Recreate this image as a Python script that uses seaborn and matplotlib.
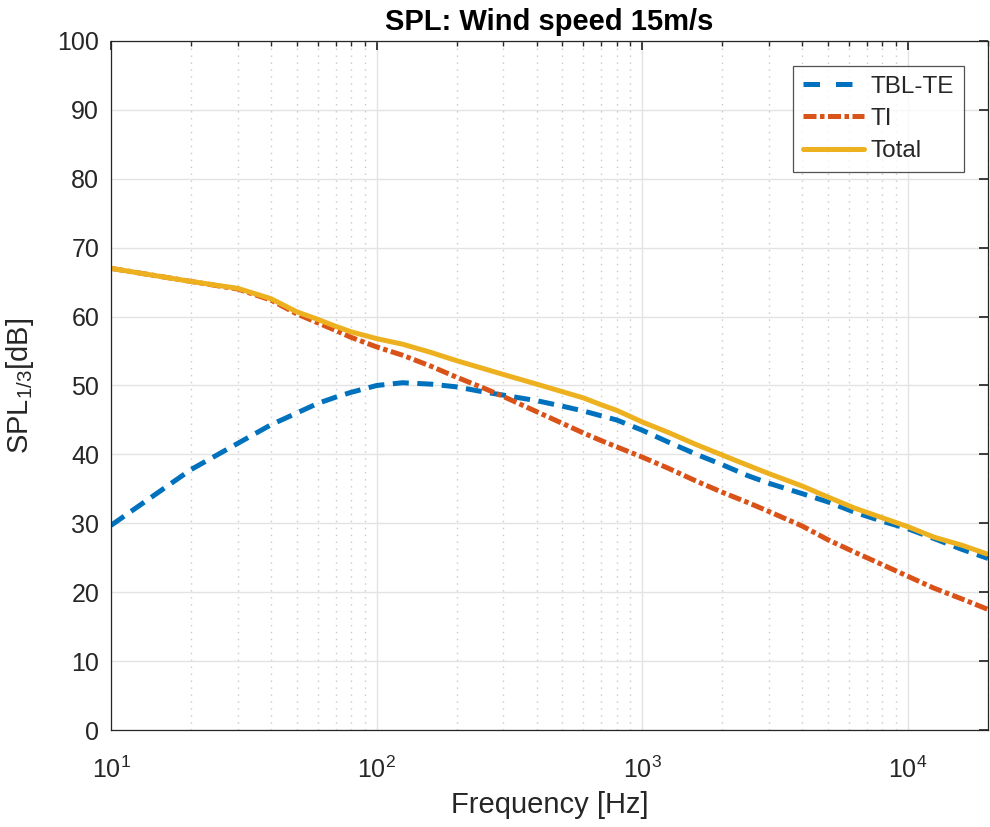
import numpy as np
import pandas as pd
import matplotlib
matplotlib.use("Agg")
import matplotlib.pyplot as plt
import seaborn as sns
from matplotlib.ticker import LogLocator, NullFormatter
from matplotlib.lines import Line2D

freq = [10, 20, 30, 40, 50, 60, 70, 80, 100, 125, 160, 200, 250, 300, 400, 500, 600, 700, 800,
        1000, 1250, 1600, 2000, 2500, 3000, 4000, 5000, 6300, 8000, 10000, 12500, 16000, 20000]
tbl_te = [29.7, 37.8, 41.6, 44.3, 46.0, 47.4, 48.3, 49.0, 50.0, 50.4, 50.2, 49.8, 49.1, 48.6, 47.8,
          47.0, 46.3, 45.6, 45.0, 43.5, 41.8, 40.0, 38.5, 36.9, 35.8, 34.3, 33.1, 31.6, 30.3,
          29.2, 27.8, 26.2, 24.9]
ti = [67.0, 65.1, 64.0, 62.4, 60.4, 59.1, 58.0, 57.0, 55.6, 54.4, 52.8, 51.2, 49.7, 48.4, 46.2,
      44.5, 43.1, 42.0, 41.1, 39.6, 38.0, 36.1, 34.5, 33.0, 31.7, 29.6, 27.6, 25.8, 24.0,
      22.3, 20.6, 19.0, 17.5]
total = [67.0, 65.1, 64.1, 62.6, 60.7, 59.6, 58.6, 57.8, 56.8, 56.0, 54.8, 53.6, 52.5, 51.6, 50.2,
         49.1, 48.2, 47.2, 46.4, 44.7, 43.2, 41.4, 39.9, 38.4, 37.2, 35.4, 33.8, 32.2, 30.8,
         29.5, 28.0, 26.8, 25.5]
series_names = ["TBL-TE", "TI", "Total"]

df = pd.DataFrame({
    "Frequency": freq * 3,
    "SPL": tbl_te + ti + total,
    "Source": [s for s in series_names for _ in freq],
})

sns.set_theme(style="white")
plt.rcParams["font.family"] = ["Liberation Sans", "DejaVu Sans"]
plt.rcParams["mathtext.fontset"] = "custom"
plt.rcParams["mathtext.rm"] = "Liberation Sans"
plt.rcParams["mathtext.it"] = "Liberation Sans:italic"
plt.rcParams["mathtext.default"] = "regular"

fig = plt.figure(figsize=(9.9, 8.27), dpi=100)
ax = fig.add_axes([111 / 990, 97 / 827, 877 / 990, 689 / 827])

palette = {"TBL-TE": "#0072BD", "TI": "#D95319", "Total": "#EDB120"}
dashes = {"TBL-TE": (3.2, 1.7), "TI": (2.6, 0.7, 0.9, 0.7), "Total": ""}
LW = 3.6
sns.lineplot(data=df, x="Frequency", y="SPL", hue="Source", style="Source",
             palette=palette, dashes=dashes, linewidth=LW, ax=ax, legend=False,
             hue_order=series_names, style_order=series_names)
for ln in ax.get_lines():
    ln.set_dash_capstyle("butt")
    ln.set_solid_capstyle("butt")

ax.set_xscale("log")
ax.set_xlim(10, 2e4)
ax.set_ylim(0, 100)
ax.set_yticks(np.arange(0, 101, 10))
ax.xaxis.set_major_locator(LogLocator(base=10))
ax.xaxis.set_minor_locator(LogLocator(base=10, subs=np.arange(2, 10)))
ax.xaxis.set_minor_formatter(NullFormatter())

ax.grid(True, which="major", color="#e3e3e3", linewidth=1.0, linestyle="-")
ax.grid(True, which="minor", axis="x", color="#c8c8c8", linewidth=1.0, linestyle=(0, (1, 4)))
ax.set_axisbelow(True)

for sp in ax.spines.values():
    sp.set_color("#262626")
    sp.set_linewidth(0.9)
    sp.set_visible(True)
ax.tick_params(which="both", direction="in", top=True, right=True, colors="#262626",
               labelsize=18)
ax.tick_params(which="major", length=6.5)
ax.tick_params(which="minor", length=3.5)
ax.tick_params(axis="x", pad=19)
ax.tick_params(axis="y", pad=8.5)

ax.set_xlabel("Frequency [Hz]", fontsize=21, color="#262626")
ax.set_ylabel("SPL$_{1/3}$[dB]", fontsize=21, color="#262626")
ax.xaxis.set_label_coords(0.5, -0.088)
ax.yaxis.set_label_coords(-0.085, 0.5)
ax.set_title("SPL: Wind speed 15m/s", fontsize=21, fontweight="bold", color="black", pad=8)

handles = [
    Line2D([], [], color=palette["TBL-TE"], lw=LW, dashes=(3.3, 3.2), dash_capstyle="butt"),
    Line2D([], [], color=palette["TI"], lw=LW, dashes=dashes["TI"], dash_capstyle="butt"),
    Line2D([], [], color=palette["Total"], lw=LW),
]
leg = ax.legend(handles, series_names, loc="upper right", bbox_to_anchor=(0.9726, 0.9637),
                fontsize=17.5, frameon=True, fancybox=False, handlelength=2.5,
                borderpad=0.4, labelspacing=0.42, handletextpad=0.3, borderaxespad=0)
leg.get_frame().set_edgecolor("#262626")
leg.get_frame().set_linewidth(0.9)

fig.savefig("out.png", dpi=100, facecolor="white")
